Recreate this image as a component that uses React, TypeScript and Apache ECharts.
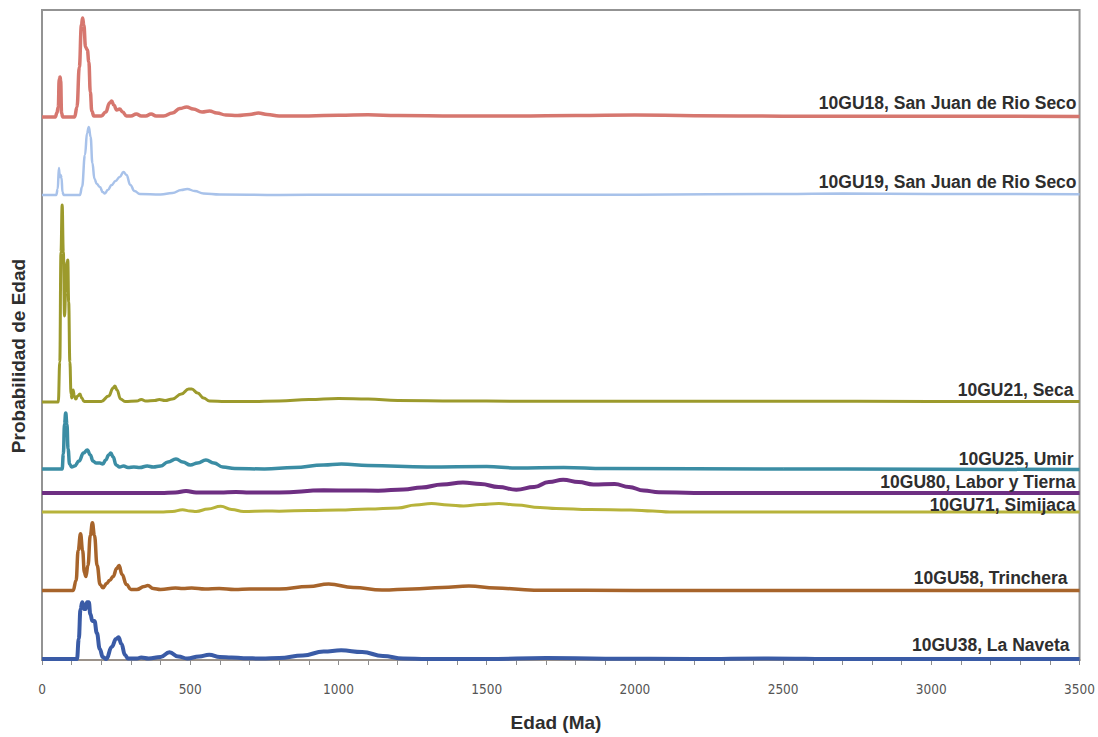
import React, { useEffect, useRef } from "react";
import * as echarts from "echarts";

// Age axis (Ma)
const AGE_MIN = 0;
const AGE_MAX = 3500;
const AGE_STEP = 500;

// Sample names, drawn as labels at the right end of each curve
const sampleNames = [
  "10GU18, San Juan de Rio Seco",
  "10GU19, San Juan de Rio Seco",
  "10GU21, Seca",
  "10GU25, Umir",
  "10GU80, Labor y Tierna",
  "10GU71, Simijaca",
  "10GU58, Trinchera",
  "10GU38, La Naveta",
];

// Vertical offset of each curve's baseline (stacked display units)
const sampleOffsets = [543, 465, 258, 191, 167, 148, 69.5, 1];

// Relative probability density curves: [age (Ma), probability]
const gu18: [number, number][] = [
  [0, 0], [45, 0], [50, 4], [55, 10], [58, 38], [61, 40], [63, 36], [66, 4], [70, 0],
  [110, 0], [118, 10], [126, 50], [133, 92], [137, 99], [141, 92], [147, 70], [153, 67],
  [158, 55], [163, 25], [168, 6], [175, 1], [200, 1], [215, 5], [228, 14], [235, 16],
  [242, 12], [252, 7], [262, 8], [272, 5], [285, 1], [300, 1], [318, 3], [335, 1],
  [350, 1], [368, 3], [385, 1], [410, 1], [440, 4], [465, 8.5], [488, 10], [510, 8],
  [540, 5], [565, 6], [590, 4], [620, 2], [660, 1.5], [700, 2.5], [730, 4], [760, 2.5],
  [800, 1], [900, 1], [1000, 1.8], [1100, 2.2], [1200, 1.5], [1400, 1], [1600, 1],
  [1800, 1.5], [2000, 2], [2200, 1.3], [2500, 0.8], [3000, 0.8], [3500, 0.5],
];

const gu19: [number, number][] = [
  [0, 0], [48, 0], [53, 6], [57, 27], [60, 18], [63, 20], [66, 17], [69, 3], [73, 0],
  [128, 0], [135, 8], [145, 40], [152, 62], [158, 68], [164, 58], [170, 32], [177, 16],
  [185, 11], [195, 8], [205, 3], [212, 1.5], [222, 5], [235, 10], [248, 14], [262, 18],
  [275, 23], [285, 20], [298, 10], [312, 4], [330, 1], [400, 0.5], [440, 2], [470, 5],
  [490, 6], [515, 4], [545, 1.5], [600, 0.5], [800, 0], [1000, 0.3], [1500, 0.2],
  [2000, 0.3], [2500, 1], [2700, 1.5], [3000, 1], [3500, 0.8],
];

const gu21: [number, number][] = [
  [0, 0], [55, 0], [60, 40], [64, 150], [68, 197], [72, 150], [76, 86], [80, 110],
  [84, 140], [87, 142], [90, 100], [94, 40], [98, 8], [101, 4], [105, 12], [109, 6],
  [114, 3], [120, 6], [128, 8], [134, 4], [142, 0.5], [200, 0.5], [225, 6], [240, 14],
  [246, 16], [253, 12], [265, 3], [280, 0.5], [320, 1], [335, 2.5], [350, 1], [380, 1.5],
  [396, 2.5], [415, 1.5], [440, 3], [470, 8], [495, 13], [505, 13], [525, 9], [545, 4],
  [565, 1], [620, 0.5], [700, 0.5], [800, 1], [900, 2.5], [1000, 3.5], [1100, 3],
  [1200, 1.5], [1400, 1], [1600, 0.8], [2000, 0.8], [2500, 0.8], [3000, 0.6], [3500, 0.5],
];

const gu25: [number, number][] = [
  [0, 0], [68, 0], [72, 15], [76, 45], [80, 56], [84, 45], [88, 20], [93, 5], [100, 2],
  [110, 3], [125, 8], [140, 16], [153, 19], [163, 14], [172, 8], [182, 6], [195, 6],
  [205, 5], [215, 9], [225, 14], [232, 16], [240, 12], [250, 4], [262, 2], [275, 3],
  [290, 1.5], [310, 2], [330, 1.5], [355, 3], [375, 2], [400, 3], [425, 7], [452, 10],
  [475, 7], [500, 4], [525, 6], [553, 9], [580, 6], [610, 2], [650, 0.5], [750, 0],
  [850, 1.5], [950, 4], [1010, 5], [1100, 3.5], [1300, 2], [1500, 2.5], [1600, 1],
  [1760, 1.5], [1900, 0.5], [2500, 0], [3500, -0.5],
];

const gu80: [number, number][] = [
  [0, 0], [400, 0], [450, 0.5], [486, 2], [520, 0.5], [600, 0.5], [654, 1], [700, 0.5],
  [800, 0.5], [950, 2.7], [1050, 2.5], [1134, 2.3], [1220, 3.5], [1280, 5.5], [1350, 8.5],
  [1420, 10.5], [1480, 9], [1540, 6], [1600, 3.3], [1660, 6], [1710, 11], [1758, 13.3],
  [1810, 11], [1860, 8.5], [1932, 9], [1980, 6], [2030, 2.5], [2081, 0.8], [2200, 0],
  [3500, 0],
];

const gu71: [number, number][] = [
  [0, 0], [400, 0], [440, 0.5], [474, 2.3], [500, 1], [520, 0.5], [560, 3], [603, 5.7],
  [640, 2.5], [680, 0.5], [754, 1], [800, 0.8], [900, 1.5], [1000, 2], [1100, 3],
  [1200, 4], [1260, 7], [1314, 8.5], [1370, 7], [1422, 6], [1480, 7.5], [1541, 8.5],
  [1600, 7], [1680, 4.5], [1734, 3.5], [1850, 2.5], [1986, 2], [2060, 1], [2118, 0],
  [3500, 0],
];

const gu58: [number, number][] = [
  [0, 0], [105, 0], [115, 10], [122, 40], [130, 56.7], [137, 40], [143, 18], [148, 14],
  [155, 25], [163, 55], [170, 67.7], [177, 55], [186, 25], [196, 6], [206, 2.7], [218, 7],
  [228, 10], [240, 14], [252, 22], [260, 25], [270, 16], [285, 6], [300, 1], [320, 1],
  [345, 4], [357, 5], [375, 2], [400, 1], [450, 2.5], [475, 2], [505, 2.5], [550, 1.5],
  [598, 2], [650, 1], [700, 1.5], [800, 1.5], [900, 4], [967, 6.5], [1050, 3],
  [1147, 0.5], [1250, 1.5], [1350, 3], [1440, 4.5], [1530, 2.5], [1660, 0.3], [2000, 0],
  [3500, 0],
];

const gu38: [number, number][] = [
  [0, 0], [118, 0], [124, 20], [130, 50], [136, 56.7], [142, 50], [147, 50], [152, 56.7],
  [158, 56.7], [163, 45], [170, 38], [177, 38], [185, 26], [195, 10], [205, 2], [217, 0],
  [235, 12], [250, 20], [258, 21.7], [268, 15], [280, 4], [290, 0.5], [320, 0.5],
  [335, 1.5], [360, 0.5], [400, 2], [430, 6.7], [460, 2.5], [490, 0.5], [530, 2.5],
  [564, 4.3], [600, 2], [640, 1.5], [680, 0.8], [740, 0.5], [800, 1], [880, 3.5],
  [950, 7.5], [1009, 8.7], [1080, 7], [1150, 3], [1218, 0.5], [1300, 0], [1500, 0],
  [1700, 1], [1900, 0.3], [2200, 0], [2450, 0.6], [2700, 0], [3500, 0],
];

const sampleCurves = [gu18, gu19, gu21, gu25, gu80, gu71, gu58, gu38];

// Line appearance per sample, and where its label sits relative to the curve end
const lineStyles = [
  { color: "#D6776F", width: 3.5, labelDy: -14, labelDx: 4 },
  { color: "#A8C2EA", width: 2.5, labelDy: -13, labelDx: 4 },
  { color: "#9C9A2C", width: 3, labelDy: -12, labelDx: 1 },
  { color: "#3B8DA4", width: 3.5, labelDy: -10, labelDx: 1 },
  { color: "#6E2F82", width: 4, labelDy: -11, labelDx: 3 },
  { color: "#B7B33B", width: 3, labelDy: -7, labelDx: 3 },
  { color: "#A7642B", width: 3.5, labelDy: -13, labelDx: -5 },
  { color: "#3A5BA6", width: 4, labelDy: -14, labelDx: -3 },
];

const LABEL_FONT = "'Liberation Sans', Arial, sans-serif";

export default function App() {
  const ref = useRef<HTMLDivElement>(null);

  useEffect(() => {
    if (!ref.current) return;
    const chart = echarts.init(ref.current, undefined, { renderer: "svg" });

    const series = sampleCurves.map((curve, i) => ({
      type: "line",
      name: sampleNames[i],
      data: curve.map(([age, p]) => [age, sampleOffsets[i] + p]),
      showSymbol: false,
      smooth: 0.45,
      smoothMonotone: "x",
      lineStyle: { color: lineStyles[i].color, width: lineStyles[i].width },
      itemStyle: { color: lineStyles[i].color },
      z: 3,
    }));

    chart.setOption({
      animation: false,
      backgroundColor: "#ffffff",
      grid: {
        left: 42,
        right: 13,
        top: 10,
        bottom: 77,
        show: true,
        borderColor: "#939393",
        borderWidth: 2,
      },
      xAxis: {
        type: "value",
        min: AGE_MIN,
        max: AGE_MAX,
        interval: AGE_STEP,
        axisLine: { show: true, onZero: false, lineStyle: { color: "#9b928a", width: 2 } },
        axisTick: { show: true, length: 5, lineStyle: { color: "#8d8d8d" } },
        minorTick: { show: true, splitNumber: 5, length: 5, lineStyle: { color: "#8d8d8d" } },
        splitLine: { show: false },
        axisLabel: {
          margin: 22,
          formatter: (v: number) => String(v),
          fontFamily: "'Liberation Sans Narrow', 'DejaVu Sans Condensed', sans-serif",
          fontSize: 13.5,
          color: "#555555",
        },
      },
      yAxis: {
        type: "value",
        min: 0,
        max: 650,
        axisLine: { show: false },
        axisTick: { show: false },
        axisLabel: { show: false },
        splitLine: { show: false },
      },
      series,
    });

    // Curve labels, axis titles
    const graphics: any[] = sampleNames.map((name, i) => {
      const [px, py] = chart.convertToPixel({ gridIndex: 0 }, [AGE_MAX, sampleOffsets[i]]);
      return {
        type: "text",
        x: px - 7 + lineStyles[i].labelDx,
        y: py + lineStyles[i].labelDy,
        z: 10,
        style: {
          text: name,
          fontFamily: LABEL_FONT,
          fontWeight: "bold",
          fontSize: 17.5,
          fill: "#2e2e2e",
          textAlign: "right",
          textVerticalAlign: "middle",
        },
      };
    });
    graphics.push({
      type: "text",
      x: 18,
      y: 356,
      rotation: Math.PI / 2,
      style: {
        text: "Probabilidad de Edad",
        fontFamily: LABEL_FONT,
        fontWeight: "bold",
        fontSize: 19,
        fill: "#2e2e2e",
        textAlign: "center",
        textVerticalAlign: "middle",
      },
    });
    graphics.push({
      type: "text",
      x: 556,
      y: 722,
      style: {
        text: "Edad (Ma)",
        fontFamily: LABEL_FONT,
        fontWeight: "bold",
        fontSize: 19,
        fill: "#2e2e2e",
        textAlign: "center",
        textVerticalAlign: "middle",
      },
    });
    chart.setOption({ graphic: graphics });

    return () => chart.dispose();
  }, []);

  return (
    <div
      ref={ref}
      style={{ position: "fixed", left: 0, top: 0, width: 1098, height: 737, background: "#fff" }}
    />
  );
}
